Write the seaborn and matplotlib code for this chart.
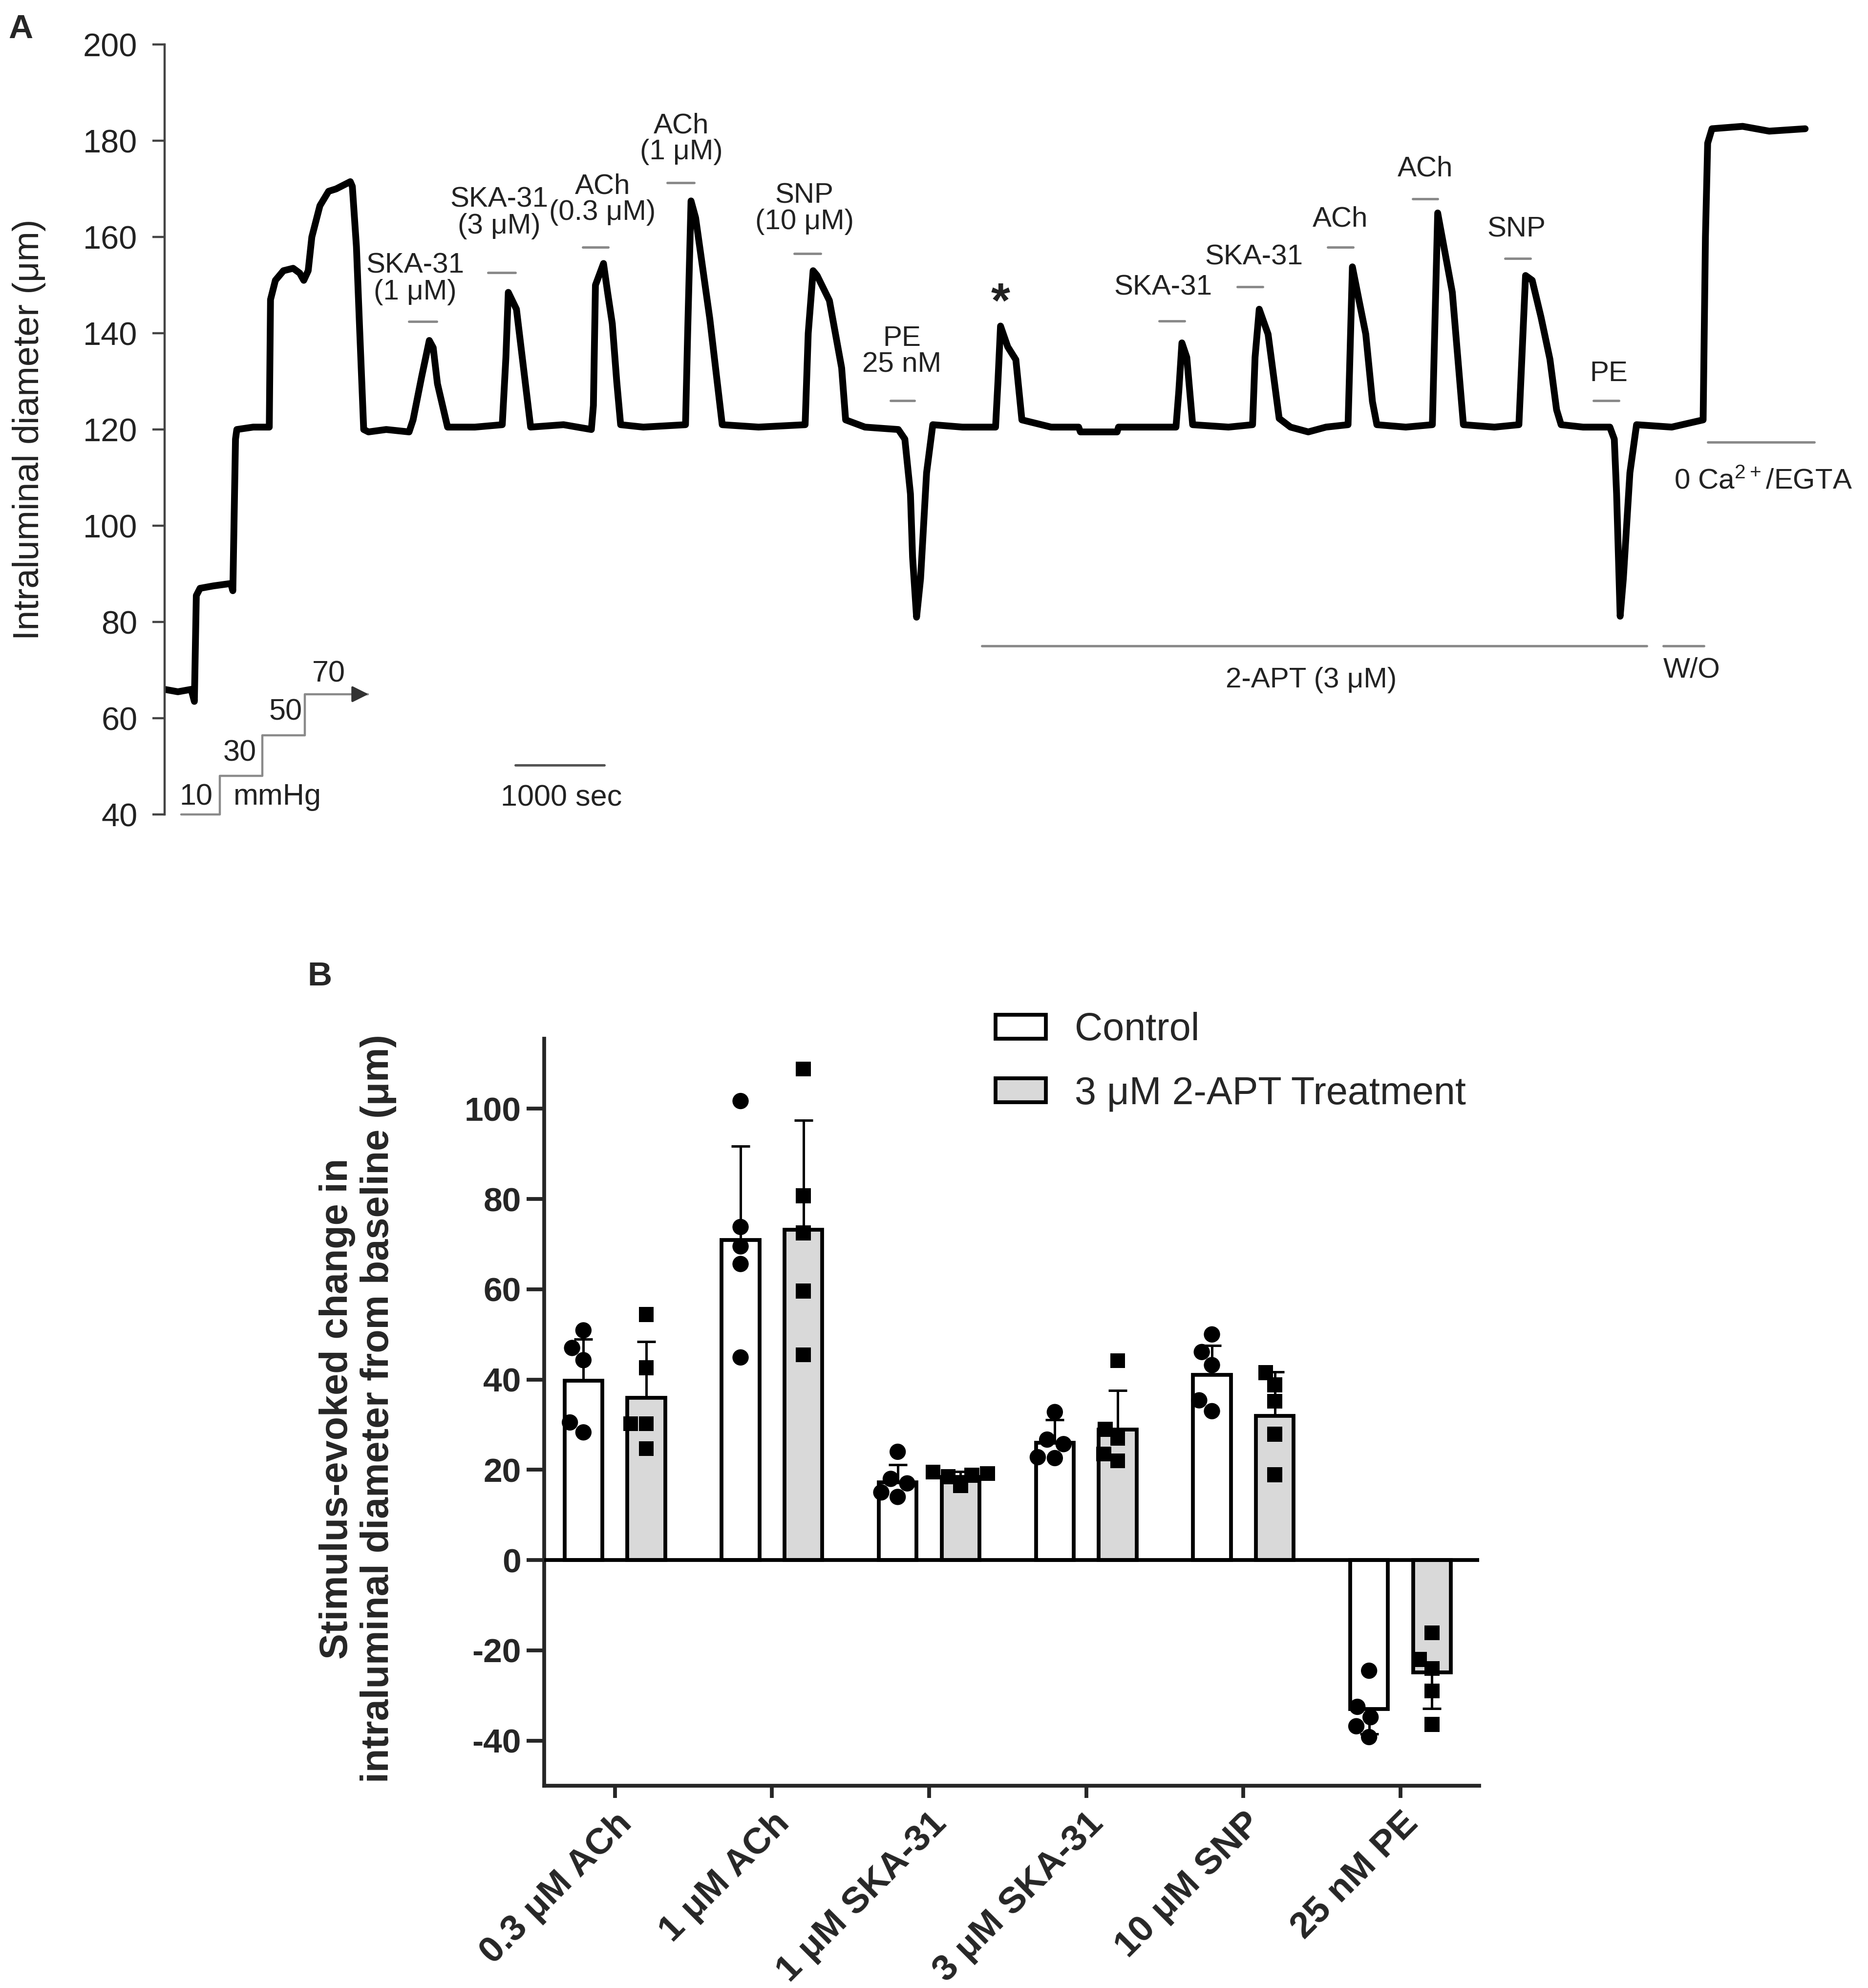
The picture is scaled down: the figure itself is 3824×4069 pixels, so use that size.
import pandas as pd
import matplotlib
matplotlib.use("Agg")
import matplotlib.pyplot as plt
import seaborn as sns

# ---------------- panel A : diameter trace ----------------
# time (s) and intraluminal diameter (um)
trace_t = [0, 150, 300, 336, 358, 400, 550, 747, 770, 783, 800, 815, 1000, 1181,
           1195, 1250, 1341, 1450, 1524, 1570, 1620, 1661, 1752, 1850, 1935, 2095,
           2118, 2164, 2200, 2246, 2300, 2500, 2758, 2803, 2900, 2986, 3030, 3078,
           3192, 3500, 3809, 3850, 3877, 3969, 4129, 4500, 4814, 4837, 4860, 4951,
           4997, 5050, 5100, 5144, 5400, 5876, 5900, 5938, 5990, 6150, 6290, 6700,
           7225, 7260, 7315, 7360, 7499, 7637, 7682, 7900, 8276, 8350, 8413, 8437,
           8482, 8527, 8595, 8665, 9000, 9373, 9400, 9429, 9510, 9602, 9670, 10000,
           10310, 10330, 10744, 10760, 11408, 11440, 11475, 11530, 11596, 12000,
           12272, 12300, 12347, 12447, 12572, 12700, 12900, 13100, 13349, 13398,
           13473, 13549, 13624, 13674, 14000, 14300, 14360, 14525, 14650, 15000,
           15276, 15351, 15426, 15526, 15626, 15701, 15752, 16000, 16302, 16352,
           16378, 16418, 16454, 16528, 16603, 17000, 17354, 17380, 17405, 17454,
           17800, 18100, 18505]
trace_d = [66, 65.5, 66, 63.5, 85.5, 87, 87.5, 88, 86.5, 100, 118, 120, 120.5, 120.5,
           147, 151, 153, 153.5, 152.5, 151, 153, 160, 166.5, 169.5, 170, 171.5,
           170.5, 158, 141, 120, 119.5, 120, 119.5, 122, 131, 138.5, 137, 129.5,
           120.5, 120.5, 121, 135, 148.5, 145, 120.5, 121, 120, 125, 150, 154.5,
           148.5, 142, 130, 121, 120.5, 121, 140, 167.5, 164, 143, 121, 120.5,
           121, 140, 153, 152, 146.8, 132.8, 122, 120.5, 120, 118, 106.6, 93.5,
           81, 89, 111, 121, 120.5, 120.5, 130, 141.5, 137.2, 134.5, 122, 120.5,
           120.5, 119.5, 119.5, 120.5, 120.5, 128, 138, 135, 121, 120.5,
           121, 135, 145, 139.8, 122.3, 120.5, 119.5, 120.5, 121, 153.8,
           146.8, 139.8, 125.8, 121, 120.5, 121, 165, 148.5, 121, 120.5,
           121, 152, 151, 143.3, 134.6, 124.1, 121, 120.5, 120.5, 118,
           106.6, 81.2, 89, 111, 121, 120.5, 122, 160, 179.5, 182.5,
           183, 182, 182.5]

# pressure protocol (mmHg)
press_lbl = ["10", "30", "50", "70"]
press_t = [187, 623, 1102, 1581, 2290]
press_y = [40, 48, 56.5, 65, 65]

# drug applications
drug_lbl = ["SKA-31\n(1 μM)", "SKA-31\n(3 μM)", "ACh\n(0.3 μM)", "ACh\n(1 μM)",
            "SNP\n(10 μM)", "PE\n25 nM", "SKA-31", "SKA-31", "ACh", "ACh", "SNP", "PE"]
drug_t0 = [2758, 3649, 4716, 5673, 7102, 8188, 11218, 12103, 13118, 14076, 15119, 16119]
drug_t1 = [3069, 3955, 5001, 5973, 7402, 8460, 11503, 12389, 13404, 14362, 15405, 16405]
drug_bar_y = [142.4, 152.6, 157.9, 171.3, 156.6, 126, 142.6, 149.7, 157.9, 167.9, 155.5, 126]
drug_txt_t = [2826, 3772, 4940, 5830, 7216, 8317, 11260, 12289, 13261, 14219, 15247, 16291]
drug_txt_y = [151.3, 165, 167.8, 180.4, 165.9, 136.2, 149.5, 155.8, 163.7, 174.2, 161.6, 131.6]

# ---------------- panel B : summary bars ----------------
stims = ["0.3 μM ACh", "1 μM ACh", "1 μM SKA-31", "3 μM SKA-31", "10 μM SNP", "25 nM PE"]
groups = ["Control", "3 μM 2-APT Treatment"]
ctrl_mean = [39.7, 70.9, 17.2, 26.0, 41.0, -33.0]
ctrl_sd = [9.2, 20.8, 3.9, 5.1, 6.5, 5.5]
trt_mean = [36.0, 73.2, 18.4, 28.9, 32.0, -24.9]
trt_sd = [12.4, 24.2, 1.2, 8.7, 9.7, 8.0]
ctrl_pts = [[50.9, 47.0, 44.3, 30.5, 28.3],
            [101.7, 73.8, 69.5, 65.6, 44.9],
            [24.0, 18.0, 17.0, 15.0, 14.0],
            [32.8, 26.7, 25.7, 22.8, 22.6],
            [50.0, 46.1, 43.2, 35.4, 33.0],
            [-24.5, -32.5, -34.8, -36.8, -39.2]]
trt_pts = [[54.4, 42.6, 30.2, 30.2, 24.7],
           [108.8, 80.7, 72.5, 59.6, 45.5],
           [19.5, 19.2, 18.8, 18.5, 16.5],
           [44.2, 29.0, 27.0, 23.5, 22.0],
           [41.5, 38.8, 35.2, 27.9, 18.9],
           [-16.1, -22.0, -24.0, -29.0, -36.4]]

sns.set_style("ticks")
plt.rcParams["font.family"] = ["Liberation Sans", "DejaVu Sans"]
plt.rcParams["mathtext.default"] = "regular"
plt.rcParams["axes.unicode_minus"] = False

fig = plt.figure(figsize=(3824 / 200, 4069 / 200), dpi=200)

# ======== A ========
axA = fig.add_axes([0.0881, 0.5903, 0.8814, 0.3873])
trace_df = pd.DataFrame({"t": trace_t, "d": trace_d})
sns.lineplot(data=trace_df, x="t", y="d", color="black", lw=5, ax=axA,
             sort=False, estimator=None)
axA.set_xlim(0, 18571)
axA.set_ylim(40, 200)
axA.set_yticks(range(40, 201, 20))
for s in ["top", "right", "bottom"]:
    axA.spines[s].set_visible(False)
axA.spines["left"].set_color("#444")
axA.spines["left"].set_linewidth(1.6)
axA.set_xticks([])
axA.set_xlabel("")
axA.tick_params(axis="y", length=9, width=1.6, color="#444", labelsize=24,
                labelcolor="#222", pad=11)
axA.set_ylabel("Intraluminal diameter (μm)", fontsize=26.5, color="#222")
axA.yaxis.set_label_coords(-0.072, 0.5)

grey = "#8a8a8a"
txt = "#222222"
# pressure steps
axA.plot(press_t, press_y, drawstyle="steps-post", color=grey, lw=1.6, clip_on=False)
axA.annotate("", xy=(press_t[-1] + 40, press_y[-1]), xytext=(press_t[-1] - 150, press_y[-1]),
             arrowprops=dict(arrowstyle="-|>", color="#333", lw=1.6, mutation_scale=25))
for lbl, tx, ty in zip(press_lbl, [358, 848, 1364, 1853], [43.6, 52.7, 61.2, 69.1]):
    axA.text(tx, ty, lbl, ha="center", va="center", fontsize=22, color=txt)
axA.text(1272, 43.6, "mmHg", ha="center", va="center", fontsize=22, color=txt)

# drug bars and labels
for lbl, t0, t1, by, tx, ty in zip(drug_lbl, drug_t0, drug_t1, drug_bar_y, drug_txt_t, drug_txt_y):
    axA.plot([t0, t1], [by, by], color=grey, lw=1.8)
    axA.text(tx, ty, lbl, ha="center", va="center", fontsize=21, color=txt, linespacing=1.0)

axA.text(9431, 146, "*", ha="center", va="center", fontsize=36, fontweight="bold", color=txt)

# 2-APT, washout, 0 Ca, scale bar
axA.plot([9217, 16719], [75, 75], color=grey, lw=1.8)
axA.text(12932, 67.9, "2-APT (3 μM)", ha="center", va="center", fontsize=21, color=txt)
axA.plot([16905, 17362], [75, 75], color=grey, lw=1.8)
axA.text(16905, 70, "W/O", ha="left", va="center", fontsize=21, color=txt)
axA.plot([17405, 18605], [117.4, 117.4], color=grey, lw=1.8, clip_on=False)
axA.text(18034, 109.2, "0 Ca$^{2+}$/EGTA", ha="center", va="center", fontsize=21,
         color=txt, clip_on=False)
axA.plot([3958, 4959], [50.3, 50.3], color="#555", lw=1.8)
axA.text(4473, 43.4, "1000 sec", ha="center", va="center", fontsize=22, color=txt)

# ======== B ========
axB = fig.add_axes([0.2913, 0.1017, 0.5005, 0.3758])

bar_df = pd.DataFrame({
    "stim": stims * 2,
    "group": [groups[0]] * len(stims) + [groups[1]] * len(stims),
    "mean": ctrl_mean + trt_mean,
})
fills = {groups[0]: "white", groups[1]: "#d9d9d9"}
sns.barplot(data=bar_df, x="stim", y="mean", hue="group", order=stims, hue_order=groups,
            palette=fills, edgecolor="black", linewidth=2.8, width=0.8, gap=0.4,
            errorbar=None, ax=axB, zorder=2)

# SD error bars (drawn under the bars, like the original)
for cont, means, sds in zip(axB.containers, [ctrl_mean, trt_mean], [ctrl_sd, trt_sd]):
    xs = [p.get_x() + p.get_width() / 2 for p in cont]
    axB.errorbar(xs, means, yerr=sds, fmt="none", ecolor="black", elinewidth=1.8,
                 capsize=7, capthick=1.8, zorder=1)

pts_rows = []
for i, s in enumerate(stims):
    for v in ctrl_pts[i]:
        pts_rows.append((s, groups[0], v))
    for v in trt_pts[i]:
        pts_rows.append((s, groups[1], v))
pts_df = pd.DataFrame(pts_rows, columns=["stim", "group", "value"])
for g, mk, sz in zip(groups, ["o", "s"], [12, 11]):
    sns.swarmplot(data=pts_df[pts_df["group"] == g], x="stim", y="value", hue="group",
                  order=stims, hue_order=groups, dodge=True, marker=mk, size=sz,
                  palette={groups[0]: "black", groups[1]: "black"}, linewidth=0,
                  legend=False, ax=axB, zorder=4, warn_thresh=1)

axB.axhline(0, color="black", lw=2.8, zorder=3)
axB.set_xlim(-0.45, 5.5)
axB.set_ylim(-50, 115.5)
axB.set_yticks(range(-40, 101, 20))
sns.despine(ax=axB)
for s in ["left", "bottom"]:
    axB.spines[s].set_linewidth(2.8)
axB.tick_params(axis="y", length=13, width=2.8, labelsize=25, pad=4)
axB.tick_params(axis="x", length=9, width=2.8, labelsize=27, pad=6)
plt.setp(axB.get_yticklabels(), fontweight="bold")
plt.setp(axB.get_xticklabels(), fontweight="bold", rotation=45, ha="right",
         va="top", rotation_mode="anchor")
axB.set_xlabel("")
axB.set_ylabel("Stimulus-evoked change in\nintraluminal diameter from baseline (μm)",
               fontsize=28.5, fontweight="bold", linespacing=1.15)
axB.yaxis.set_label_coords(-0.158, 0.505)

handles, labels = axB.get_legend_handles_labels()
if axB.get_legend() is not None:
    axB.get_legend().remove()
fig.legend(handles[:2], labels[:2], loc="upper left", bbox_to_anchor=(0.533, 0.491),
           frameon=False, fontsize=28.5, handlelength=1.3, handleheight=0.58,
           handletextpad=0.75, labelspacing=0.7, borderpad=0, borderaxespad=0)

fig.text(0.0044, 0.993, "A", fontsize=25, fontweight="bold", va="top", ha="left")
fig.text(0.1647, 0.5166, "B", fontsize=25, fontweight="bold", va="top", ha="left")

fig.savefig("out.png", dpi=200)
